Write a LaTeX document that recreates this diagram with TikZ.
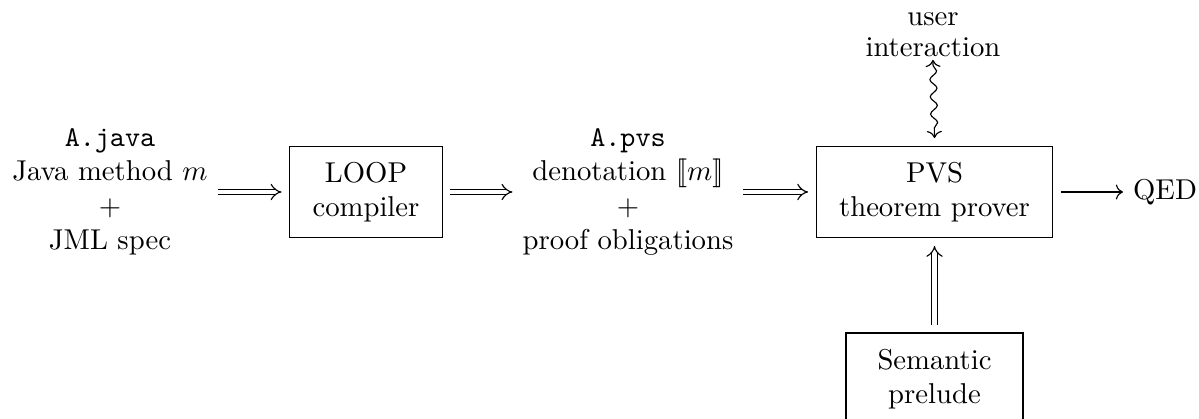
\documentclass[tikz,border=0pt]{standalone}
\usepackage{amsmath}
\usepackage{amssymb}
\usepackage{tikz}
\usetikzlibrary{arrows.meta, decorations.pathmorphing}

\begin{document}
\begin{tikzpicture}[
        box/.style={draw, align=center, inner xsep=8pt, inner ysep=5.5pt, outer sep=2.8pt},
        txt/.style={align=center},
        dbl/.style={double, double distance=1.6pt, -{Implies}},
        wavy/.style={<->, decorate, decoration={snake, amplitude=1.2pt, segment length=6pt, pre length=2pt, post length=2pt}}
    ]
        \useasboundingbox (0,0) rectangle (14.683,-5.119);
        \node[txt] (java) at (1.347,-2.351) {\texttt{A.java}\\ Java method $m$\\ $+$\\ JML spec};
        \node[box] (loop) at (4.482,-2.351) {LOOP\\ compiler};
        \node[txt] (pvsfile) at (7.690,-2.351) {\texttt{A.pvs}\\ denotation $[\![m]\!]$\\ $+$\\ proof obligations};
        \node[box] (prover) at (11.444,-2.351) {PVS\\ theorem prover};
        \node[anchor=west] (qed) at (13.752,-2.351) {QED};
        \node[txt, anchor=south, inner sep=1pt] (user) at (11.425,-0.733) {user\\[-1.5pt] interaction};
        \node[box, anchor=north, minimum width=61.7pt] (prelude) at (11.444,-3.98) {Semantic\\ prelude};
        \draw[dbl] (java) -- (loop);
        \draw[dbl] (loop) -- (pvsfile);
        \draw[dbl] (pvsfile) -- (prover);
        \draw[->] (prover) -- (qed);
        \draw[dbl] (prelude) -- (prover);
        \draw[wavy] (user.south) -- (prover.north);
    \end{tikzpicture}
\end{document}
